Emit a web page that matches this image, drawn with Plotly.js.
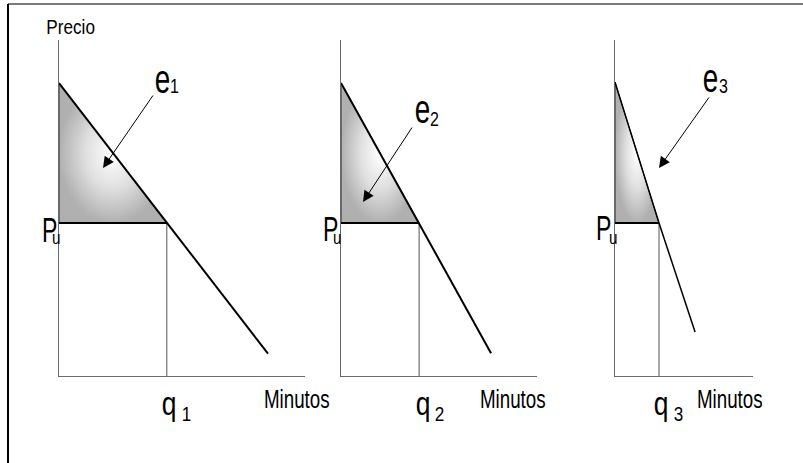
<!DOCTYPE html>
<html>
<head>
<meta charset="utf-8">
<script src="https://cdn.plot.ly/plotly-3.0.1.min.js"></script>
<style>
  html, body { margin: 0; padding: 0; background: #fff; }
</style>
</head>
<body>
<div id="myDiv" style="width:803px;height:463px;"></div>
<script>
// values (price and minutes, arbitrary units)
var subs = ['1', '2', '3'];
var interceptP = [10, 10, 10.03];
var priceU = 5.22;
var qU = [4.9, 3.55, 2.0];
var endQ = [9.5, 6.82, 3.64];
var endP = [0.76, 0.78, 1.5];
var demandWidth = [2, 2, 1.5];

var W = 803, H = 463;
var font = "'Liberation Sans', Arial, sans-serif";

// pixel -> paper helpers for the layout bits
function px(x) { return x / W; }
function py(y) { return 1 - y / H; }

var xDomains = [[59, 305], [341, 537], [615, 753]];
var yDomain = [py(376), py(40)];
var yMax = 336 / 29.3;

var data = [];
for (var i = 0; i < subs.length; i++) {
  var xa = i === 0 ? 'x' : 'x' + (i + 1);
  var ya = i === 0 ? 'y' : 'y' + (i + 1);
  // shaded triangle
  data.push({
    x: [0, 0, qU[i], 0],
    y: [interceptP[i], priceU, priceU, interceptP[i]],
    xaxis: xa, yaxis: ya,
    type: 'scatter', mode: 'lines',
    fill: 'toself',
    fillgradient: {type: 'radial', colorscale: [[0, '#ffffff'], [0.5, '#e0e0e0'], [1, '#b0b0b0']]},
    line: {color: '#222', width: 1}
  });
  // vertical at q
  data.push({
    x: [qU[i], qU[i]],
    y: [0, priceU],
    xaxis: xa, yaxis: ya,
    type: 'scatter', mode: 'lines',
    line: {color: '#555', width: 1}
  });
  // horizontal at Pu
  data.push({
    x: [0, qU[i]],
    y: [priceU, priceU],
    xaxis: xa, yaxis: ya,
    type: 'scatter', mode: 'lines',
    line: {color: '#000', width: 2}
  });
  // demand line
  data.push({
    x: [0, qU[i], endQ[i]],
    y: [interceptP[i], priceU, endP[i]],
    xaxis: xa, yaxis: ya,
    type: 'scatter', mode: 'lines',
    line: {color: '#000', width: demandWidth[i]}
  });
}

var layout = {
  width: W, height: H,
  margin: {l: 0, r: 0, t: 0, b: 0},
  paper_bgcolor: '#fff', plot_bgcolor: 'rgba(0,0,0,0)',
  showlegend: false,
  font: {family: font, color: '#000'},
  shapes: [
    {type: 'line', xref: 'paper', yref: 'paper', x0: px(8), x1: 1, y0: py(4), y1: py(4),
     line: {color: '#7a7a7a', width: 2}},
    {type: 'line', xref: 'paper', yref: 'paper', x0: px(8), x1: px(8), y0: 0, y1: py(4),
     line: {color: '#000', width: 2}}
  ],
  annotations: []
};

for (var i = 0; i < subs.length; i++) {
  var sfx = i === 0 ? '' : (i + 1);
  var d = xDomains[i];
  layout['xaxis' + sfx] = {
    domain: [px(d[0]), px(d[1])],
    range: [0, (d[1] - d[0]) / 22],
    anchor: 'y' + sfx,
    showline: true, linecolor: '#6a6a6a', linewidth: 1,
    showgrid: false, zeroline: false, showticklabels: false, ticks: ''
  };
  layout['yaxis' + sfx] = {
    domain: yDomain,
    range: [0, yMax],
    anchor: 'x' + sfx,
    showline: true, linecolor: '#6a6a6a', linewidth: 1,
    showgrid: false, zeroline: false, showticklabels: false, ticks: ''
  };
}

// the original lettering is a squeezed narrow face: squeeze each label after drawing
var squeeze = [];
function label(text, x, baseline, size, scale) {
  layout.annotations.push({
    xref: 'paper', yref: 'paper',
    x: px(x), y: py(baseline - 0.35 * size),
    xanchor: 'center', yanchor: 'middle',
    text: text, showarrow: false,
    font: {family: font, size: size, color: '#000'}
  });
  squeeze.push(scale);
}

label('Precio', 70, 34, 19.5, 0.88);

var eX = [162.5, 422.5, 710.5], eB = [93, 123, 92];
var eSubX = [174, 434, 723], eSubB = [93, 126, 93];
var pX = [49, 330, 603], pB = [242, 241, 240];
var uX = [56, 337.5, 613];
var qX = [169, 422.5, 661], qSubX = [186, 439.5, 678.5];
var minX = [297, 513, 730];
var arrowTail = [[154, 94], [413, 126], [710, 96]];
var arrowTip = [[103, 168], [363, 202], [659, 168]];

for (var i = 0; i < subs.length; i++) {
  label('e', eX[i], eB[i], 41, 0.68);
  label(subs[i], eSubX[i], eSubB[i], 20, 0.8);
  label('P', pX[i], pB[i], 35, 0.66);
  label('u', uX[i], 244, 19, 0.8);
  label('q', qX[i], 415, 33, 0.8);
  label(subs[i], qSubX[i], 421, 20, 0.85);
  label('Minutos', minX[i], 408, 25, 0.75);
}
for (var i = 0; i < subs.length; i++) {
  layout.annotations.push({
    xref: 'paper', yref: 'paper',
    x: px(arrowTip[i][0]), y: py(arrowTip[i][1]),
    ax: arrowTail[i][0] - arrowTip[i][0], ay: arrowTail[i][1] - arrowTip[i][1],
    text: '', showarrow: true,
    arrowhead: 2, arrowsize: 2.2, arrowwidth: 1, arrowcolor: '#000', standoff: 0
  });
}

Plotly.newPlot('myDiv', data, layout, {staticPlot: true, displayModeBar: false}).then(function (gd) {
  var groups = gd.querySelectorAll('g.annotation');
  groups.forEach(function (g) {
    var idx = +g.getAttribute('data-index');
    var t = g.querySelector('text.annotation-text');
    if (!t || squeeze[idx] === undefined) return;
    var w = t.getComputedTextLength();
    t.setAttribute('textLength', (w * squeeze[idx]).toFixed(1));
    t.setAttribute('lengthAdjust', 'spacingAndGlyphs');
  });
});
</script>
</body>
</html>
